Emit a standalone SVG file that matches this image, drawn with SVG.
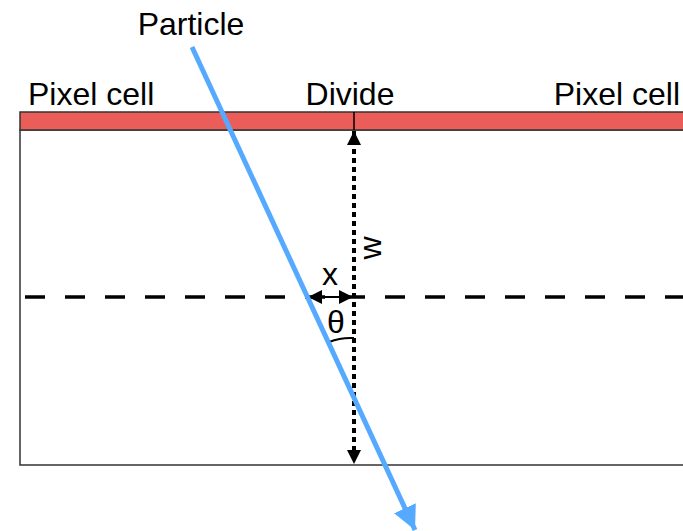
<svg xmlns="http://www.w3.org/2000/svg" width="683" height="531" viewBox="0 0 683 531">
<style>
text{font-family:"Liberation Sans",Arial,sans-serif;font-size:32px;fill:#000}
.frame{fill:none;stroke:#333;stroke-width:1.5}
</style>
<defs>
<marker id="ah" viewBox="0 0 10 10" refX="10" refY="5" markerWidth="14" markerHeight="14" markerUnits="userSpaceOnUse" orient="auto-start-reverse"><path d="M0,0 L10,5 L0,10 Z" fill="#000"/></marker>
<marker id="ahb" viewBox="0 0 10 10" refX="10" refY="5" markerWidth="24" markerHeight="28" markerUnits="userSpaceOnUse" orient="auto"><path d="M0,0 L10,5 L0,10 Z" fill="#55aaff"/></marker>
</defs>
<g id="detector">
<rect class="frame" x="20" y="130" width="680" height="335"/>
<rect x="20" y="112" width="680" height="18" fill="#ea5d58" stroke="#333" stroke-width="1.5"/>
<line x1="354" y1="112" x2="354" y2="130" stroke="#000" stroke-width="1.5"/>
</g>
<g id="labels">
<text x="28" y="105">Pixel cell</text>
<text x="350" y="105" text-anchor="middle">Divide</text>
<text x="680" y="105" text-anchor="end">Pixel cell</text>
<text x="191" y="35" text-anchor="middle">Particle</text>
<text x="330" y="285" text-anchor="middle">x</text>
<text x="336" y="333" text-anchor="middle" font-size="29">θ</text>
<text transform="translate(381,248) rotate(-90)" text-anchor="middle">w</text>
</g>
<g id="connectors">
<line x1="25" y1="297" x2="683" y2="297" stroke="#000" stroke-width="3.5" stroke-dasharray="20 20"/>
<line x1="354" y1="131" x2="354" y2="464" stroke="#000" stroke-width="4" stroke-dasharray="5 4" marker-start="url(#ah)" marker-end="url(#ah)"/>
<line x1="308" y1="297" x2="353" y2="297" stroke="#000" stroke-width="2" marker-start="url(#ah)" marker-end="url(#ah)"/>
<path d="M329,342 A58,58 0 0 1 354,338" fill="none" stroke="#000" stroke-width="2"/>
<line x1="192" y1="47" x2="415" y2="530" stroke="#55aaff" stroke-width="5" marker-end="url(#ahb)"/>
</g>
</svg>
